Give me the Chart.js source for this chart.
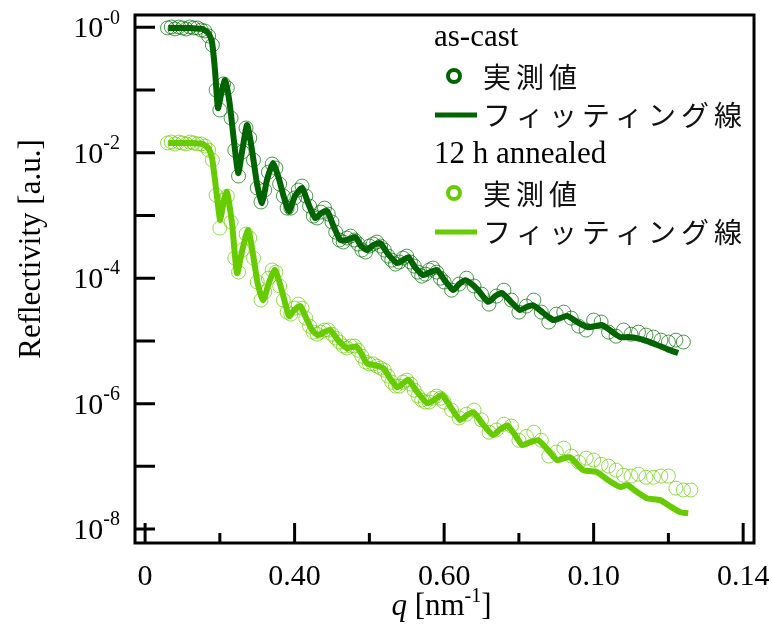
<!DOCTYPE html>
<html>
<head>
  <meta charset="utf-8">
  <title>X線反射率</title>
  <script src="https://cdn.jsdelivr.net/npm/chart.js"></script>
  <style>
    body { margin: 0; background: #fff; }
    canvas { display: block; }
  </style>
</head>
<body>
  <canvas id="xrr" width="772" height="629"></canvas>
  <script>
    // measured q grid
    const qMeas = [
      0.006, 0.007, 0.008, 0.009, 0.010, 0.011, 0.012, 0.013, 0.014, 0.015,
      0.016, 0.017, 0.018, 0.019, 0.020, 0.021, 0.022, 0.023, 0.024, 0.025,
      0.026, 0.027, 0.028, 0.029, 0.030, 0.031, 0.032, 0.033, 0.034, 0.035,
      0.036, 0.037, 0.038, 0.039, 0.040, 0.041, 0.042, 0.043, 0.044, 0.045,
      0.046, 0.047, 0.048, 0.049, 0.050, 0.051, 0.052, 0.053, 0.054, 0.055,
      0.056, 0.057, 0.058, 0.059, 0.060, 0.061, 0.062, 0.063, 0.064, 0.065,
      0.066, 0.067, 0.068, 0.069, 0.070, 0.071, 0.072, 0.073, 0.074, 0.075,
      0.076, 0.077, 0.078, 0.079, 0.080,
      0.082, 0.084, 0.086, 0.088, 0.090, 0.092, 0.094, 0.096, 0.098, 0.100,
      0.102, 0.104, 0.106, 0.108, 0.110, 0.112, 0.114, 0.116, 0.118, 0.120,
      0.122, 0.124, 0.126, 0.128, 0.130, 0.132, 0.134, 0.136, 0.138, 0.140,
      0.142, 0.144, 0.146
    ];

    // as-cast, measured reflectivity
    const castMeas = [
      0.975, 1.01, 0.94, 1.01, 0.975, 0.94, 1.01, 0.975, 0.975, 0.905,
      0.873, 0.727, 0.522, 0.100, 0.048, 0.125, 0.108, 0.0357, 0.0110, 0.00425,
      0.0103, 0.0248, 0.0172, 0.00764, 0.00274, 0.00164, 0.00254, 0.00492, 0.00660, 0.00570,
      0.00317, 0.00204, 0.00131, 0.00131, 0.00190, 0.00254, 0.00294, 0.00204, 0.00141, 0.000977,
      0.000910, 0.00113, 0.00131, 0.00105, 0.000785, 0.000543, 0.000406, 0.000377, 0.000436, 0.000469,
      0.000406, 0.000350, 0.000281, 0.000261, 0.000325, 0.000350, 0.000377, 0.000325, 0.000281, 0.000225,
      0.000194, 0.000168, 0.000181, 0.000209, 0.000225, 0.000181, 0.000156, 0.000125, 0.000108, 0.000116,
      0.000135, 0.000145, 0.000125, 0.000100, 8.7e-5,
      6.45e-5, 8.05e-5, 1.00e-4, 7.5e-5, 5.57e-5, 3.86e-5, 5.19e-5, 6.45e-5, 4.48e-5, 2.88e-5,
      3.59e-5, 4.48e-5, 2.88e-5, 2.0e-5, 2.67e-5, 2.88e-5, 2.31e-5, 1.72e-5, 1.49e-5, 2.15e-5,
      2.0e-5, 1.38e-5, 1.19e-5, 1.49e-5, 1.28e-5, 1.38e-5, 1.24e-5, 1.15e-5, 1.03e-5, 9.6e-6,
      1.03e-5, 9.6e-6
    ];

    // 12 h annealed, measured reflectivity
    const annMeas = [
      0.0143, 0.0148, 0.0138, 0.0148, 0.0143, 0.0138, 0.0148, 0.0143, 0.0138, 0.0138,
      0.0128, 0.0110, 0.00764, 0.00211, 0.000629, 0.00176, 0.00204, 0.000785, 0.000209, 0.000125,
      0.000281, 0.000505, 0.000436, 0.000209, 8.7e-5, 4.48e-5, 6.0e-5, 1.0e-4, 1.35e-4, 1.25e-4,
      7.5e-5, 4.48e-5, 2.88e-5, 2.67e-5, 3.33e-5, 3.86e-5, 3.33e-5, 2.31e-5, 1.72e-5, 1.38e-5,
      1.28e-5, 1.38e-5, 1.49e-5, 1.49e-5, 1.28e-5, 1.11e-5, 9.6e-6, 8.3e-6, 7.7e-6, 8.3e-6,
      8.3e-6, 7.1e-6, 5.7e-6, 4.6e-6, 4.3e-6, 4.3e-6, 3.96e-6, 3.68e-6, 3.42e-6, 2.75e-6,
      2.2e-6, 1.90e-6, 1.90e-6, 2.2e-6, 2.37e-6, 2.05e-6, 1.64e-6, 1.32e-6, 1.14e-6, 1.06e-6,
      1.06e-6, 1.22e-6, 1.32e-6, 1.22e-6, 1.06e-6,
      7.9e-7, 5.9e-7, 6.8e-7, 7.9e-7, 5.5e-7, 3.5e-7, 3.8e-7, 4.7e-7, 4.4e-7, 2.6e-7,
      3.0e-7, 3.5e-7, 2.6e-7, 1.46e-7, 1.69e-7, 1.95e-7, 1.46e-7, 1.17e-7, 1.35e-7, 1.26e-7,
      1.08e-7, 1.01e-7, 8.7e-8, 7.2e-8, 7.0e-8, 7.5e-8, 6.7e-8, 6.7e-8, 7.0e-8, 7.0e-8,
      4.5e-8, 4.2e-8, 4.2e-8
    ];

    // fitted curves
    const qFitCast = [
      0.0062, 0.0094, 0.0126, 0.0153, 0.0169, 0.0179, 0.0187, 0.0195, 0.0203, 0.0214,
      0.0225, 0.0236, 0.0249, 0.0260, 0.0273, 0.0286, 0.0300, 0.0313, 0.0326, 0.0342,
      0.0359, 0.0372, 0.0385, 0.0401, 0.0420, 0.0436, 0.0455, 0.0471, 0.0487, 0.0503,
      0.0522, 0.0540, 0.0562, 0.0578, 0.0594, 0.0610, 0.0629, 0.0650, 0.0674, 0.0690,
      0.0704, 0.0722, 0.0744, 0.0763, 0.0781, 0.0803, 0.0824, 0.0840, 0.0856, 0.0870,
      0.0891, 0.0918, 0.0937, 0.0955, 0.0979, 0.1003, 0.1022, 0.1038, 0.1065, 0.1092,
      0.1110, 0.1129, 0.1156, 0.1183, 0.1204, 0.1223, 0.1247, 0.1271, 0.1292, 0.1316,
      0.1343, 0.1370, 0.1397, 0.1426
    ];
    const rFitCast = [
      0.97, 0.97, 0.97, 0.94, 0.81, 0.58, 0.208, 0.0516, 0.0832, 0.144,
      0.0693, 0.0191, 0.00474, 0.0110, 0.0276, 0.0110, 0.00305, 0.00158, 0.00367, 0.00686,
      0.00367, 0.00190, 0.00117, 0.00204, 0.00274, 0.00158, 0.00091, 0.00109, 0.00117, 0.000703,
      0.000406, 0.000406, 0.000453, 0.000325, 0.000281, 0.000337, 0.000363, 0.000242, 0.000174, 0.000194,
      0.000217, 0.000150, 0.000112, 0.000125, 0.000135, 9.0e-5, 6.45e-5, 8.05e-5, 9.3e-5, 8.4e-5,
      6.45e-5, 4.2e-5, 5.19e-5, 5.8e-5, 4.2e-5, 3.1e-5, 3.5e-5, 3.7e-5, 2.8e-5, 2.15e-5,
      2.31e-5, 2.5e-5, 2.0e-5, 1.66e-5, 1.72e-5, 1.79e-5, 1.43e-5, 1.15e-5, 1.15e-5, 1.11e-5,
      9.9e-6, 8.6e-6, 7.4e-6, 6.4e-6
    ];
    const qFitAnn = [
      0.0062, 0.0094, 0.0126, 0.0153, 0.0169, 0.0179, 0.0187, 0.0195, 0.0201, 0.0211,
      0.0219, 0.0233, 0.0246, 0.0260, 0.0276, 0.0289, 0.0302, 0.0316, 0.0332, 0.0348,
      0.0367, 0.0385, 0.0399, 0.0415, 0.0431, 0.0447, 0.0463, 0.0479, 0.0495, 0.0516,
      0.0540, 0.0554, 0.0567, 0.0581, 0.0594, 0.0615, 0.0637, 0.0656, 0.0674, 0.0688,
      0.0704, 0.0728, 0.0755, 0.0776, 0.0795, 0.0819, 0.0843, 0.0862, 0.0878, 0.0904,
      0.0931, 0.0950, 0.0969, 0.0990, 0.1009, 0.1030, 0.1052, 0.1078, 0.1102, 0.1121,
      0.1137, 0.1156, 0.1172, 0.1191, 0.1209, 0.1239, 0.1271, 0.1290, 0.1316, 0.1343,
      0.1378, 0.1405, 0.1432, 0.1453
    ];
    const rFitAnn = [
      0.0143, 0.0143, 0.0143, 0.0138, 0.0119, 0.00822, 0.00367, 0.00147, 0.000845, 0.00176,
      0.00236, 0.000703, 0.000120, 0.000281, 0.000585, 0.000233, 7.8e-5, 4.48e-5, 8.7e-5, 1.35e-4,
      6.0e-5, 2.5e-5, 3.1e-5, 3.6e-5, 2.31e-5, 1.49e-5, 1.24e-5, 1.38e-5, 1.49e-5, 1.03e-5,
      7.7e-6, 8.0e-6, 8.0e-6, 5.9e-6, 4.4e-6, 4.1e-6, 3.7e-6, 2.5e-6, 1.83e-6, 2.05e-6,
      2.4e-6, 1.53e-6, 1.02e-6, 1.18e-6, 1.37e-6, 8.5e-7, 5.5e-7, 6.6e-7, 7.3e-7, 4.7e-7,
      3.15e-7, 3.9e-7, 4.5e-7, 3.15e-7, 2.18e-7, 2.43e-7, 2.6e-7, 1.81e-7, 1.26e-7, 1.35e-7,
      1.40e-7, 1.08e-7, 8.7e-8, 8.4e-8, 8.1e-8, 6.0e-8, 4.7e-8, 5.0e-8, 3.9e-8, 3.1e-8,
      2.9e-8, 2.3e-8, 1.86e-8, 1.79e-8
    ];

    // axis ticks
    const xMajorTicks = [0, 0.04, 0.08, 0.12, 0.16];
    const xTickLabels = ['0', '0.40', '0.60', '0.10', '0.14'];
    const xMinorTicks = [0.02, 0.06, 0.10, 0.14];
    const yTickExps = [0, -1, -2, -3, -4, -5, -6, -7, -8];
    const yLabelExps = [0, -2, -4, -6, -8];

    const DARK = '#006400';
    const LIGHT = '#66cc00';
    const SERIF = '"Liberation Serif", "Times New Roman", serif';
    const JP = '"Noto Sans CJK JP", sans-serif';

    const toPoints = (xs, ys) => ys.map((y, i) => ({ x: xs[i], y: y }));

    // frame, inward ticks, labels, titles and the grouped legend
    const decorations = {
      id: 'decorations',
      afterDatasetsDraw(chart) {
        const { ctx, chartArea: a, scales: { x, y } } = chart;
        ctx.save();
        ctx.strokeStyle = '#000';
        ctx.fillStyle = '#000';
        ctx.lineWidth = 3;
        ctx.strokeRect(a.left, a.top, a.right - a.left, a.bottom - a.top);

        ctx.beginPath();
        yTickExps.forEach(e => {
          const py = y.getPixelForValue(Math.pow(10, e));
          ctx.moveTo(a.left, py); ctx.lineTo(a.left + 20, py);
        });
        xMajorTicks.forEach(v => {
          const px = x.getPixelForValue(v);
          ctx.moveTo(px, a.bottom); ctx.lineTo(px, a.bottom - 20);
        });
        xMinorTicks.forEach(v => {
          const px = x.getPixelForValue(v);
          ctx.moveTo(px, a.bottom); ctx.lineTo(px, a.bottom - 10);
        });
        ctx.stroke();

        // y labels: 10 with a raised exponent
        ctx.textBaseline = 'middle';
        ctx.textAlign = 'right';
        yLabelExps.forEach(e => {
          const py = y.getPixelForValue(Math.pow(10, e));
          const sup = '-' + Math.abs(e);
          ctx.font = '20px ' + SERIF;
          const w = ctx.measureText(sup).width;
          ctx.fillText(sup, 120, py - 9);
          ctx.font = '30px ' + SERIF;
          ctx.fillText('10', 120 - w, py + 2);
        });

        // x labels
        ctx.textAlign = 'center';
        ctx.font = '30px ' + SERIF;
        xMajorTicks.forEach((v, i) => {
          ctx.fillText(xTickLabels[i], x.getPixelForValue(v), a.bottom + 34);
        });

        // x title: q [nm-1]
        const parts = [
          { t: 'q', f: 'italic 31px ' + SERIF, dy: 0 },
          { t: ' [nm', f: '31px ' + SERIF, dy: 0 },
          { t: '-1', f: '20px ' + SERIF, dy: -10 },
          { t: ']', f: '31px ' + SERIF, dy: 0 }
        ];
        let total = 0;
        parts.forEach(p => { ctx.font = p.f; p.w = ctx.measureText(p.t).width; total += p.w; });
        let cx = (a.left + a.right) / 2 - total / 2 - 3;
        ctx.textAlign = 'left';
        parts.forEach(p => { ctx.font = p.f; ctx.fillText(p.t, cx, 607 + p.dy); cx += p.w; });

        // y title
        ctx.save();
        ctx.translate(32, (a.top + a.bottom) / 2 - 30);
        ctx.rotate(-Math.PI / 2);
        ctx.textAlign = 'center';
        ctx.font = '31px ' + SERIF;
        ctx.fillText('Reflectivity [a.u.]', 0, 0);
        ctx.restore();

        // legend
        const groups = [
          { head: 'as-cast', color: DARK, y0: 38 },
          { head: '12 h annealed', color: LIGHT, y0: 155 }
        ];
        groups.forEach(g => {
          ctx.fillStyle = '#000';
          ctx.textAlign = 'left';
          ctx.font = '31px ' + SERIF;
          ctx.fillText(g.head, 434, g.y0);

          ctx.strokeStyle = g.color;
          ctx.lineWidth = 4;
          ctx.beginPath();
          ctx.arc(454, g.y0 + 38, 6, 0, Math.PI * 2);
          ctx.stroke();

          ctx.lineWidth = 5;
          ctx.beginPath();
          ctx.moveTo(435, g.y0 + 77); ctx.lineTo(477, g.y0 + 77);
          ctx.stroke();

          ctx.font = '28px ' + JP;
          ctx.letterSpacing = '5px';
          ctx.fillStyle = '#111';
          ctx.fillText('実測値', 483, g.y0 + 39);
          ctx.fillText('フィッティング線', 483, g.y0 + 77);
          ctx.letterSpacing = '0px';
        });
        ctx.restore();
      }
    };

    new Chart(document.getElementById('xrr'), {
      type: 'scatter',
      data: {
        datasets: [
          {
            label: 'as-cast フィッティング線',
            type: 'line',
            data: toPoints(qFitCast, rFitCast),
            borderColor: DARK,
            borderWidth: 6,
            pointRadius: 0,
            tension: 0.2,
            borderJoinStyle: 'round',
            order: 1
          },
          {
            label: '12 h annealed フィッティング線',
            type: 'line',
            data: toPoints(qFitAnn, rFitAnn),
            borderColor: LIGHT,
            borderWidth: 6,
            pointRadius: 0,
            tension: 0.2,
            borderJoinStyle: 'round',
            order: 1
          },
          {
            label: 'as-cast 実測値',
            data: toPoints(qMeas, castMeas),
            borderColor: 'rgba(0, 110, 0, 0.7)',
            backgroundColor: 'transparent',
            borderWidth: 1,
            pointRadius: 7,
            order: 2
          },
          {
            label: '12 h annealed 実測値',
            data: toPoints(qMeas, annMeas),
            borderColor: 'rgba(102, 204, 0, 0.7)',
            backgroundColor: 'transparent',
            borderWidth: 1,
            pointRadius: 7,
            order: 2
          }
        ]
      },
      options: {
        responsive: false,
        animation: false,
        layout: { padding: { left: 135, right: 18, top: 15, bottom: 86 } },
        plugins: { legend: { display: false }, tooltip: { enabled: false } },
        scales: {
          x: { type: 'linear', min: -0.0027, max: 0.1629, display: false },
          y: { type: 'logarithmic', min: 6.0e-9, max: 1.57, display: false }
        }
      },
      plugins: [decorations]
    });
  </script>
</body>
</html>
